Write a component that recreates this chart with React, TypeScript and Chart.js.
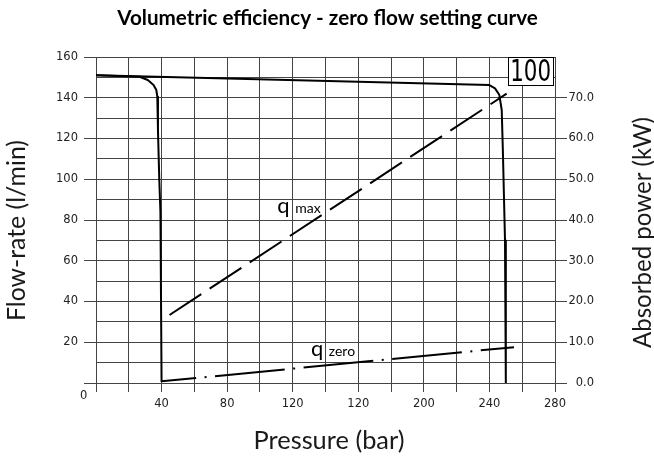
import React, { useEffect, useRef } from 'react';
import { Chart, registerables } from 'chart.js';

Chart.register(...registerables);

const W = 654;
const H = 463;

// ---- Data ----
const TITLE = 'Volumetric efficiency - zero flow setting curve';
const X_TITLE = 'Pressure (bar)';
const Y_TITLE = 'Flow-rate (l/min)';
const Y2_TITLE = 'Absorbed power (kW)';

// Outer setting curve (100): top line then right-hand drop
const outerX = [0, 240, 243.4, 246, 247.5, 248.2, 249.5, 250, 250];
const outerY = [151, 146.2, 144.6, 141.5, 134, 114, 70, 60, 0];
// Inner curve: leaves the top line and drops at 40 bar
const innerX = [0, 26.6, 31.6, 35.1, 36.8, 37.4, 37.8, 38.6, 39.3, 40];
const innerY = [151, 150.3, 148.7, 146.3, 143.8, 140.5, 124, 100, 84, 0.5];
// q max (dashed)
const qMaxX = [40, 250.5];
const qMaxY = [30.8, 142];
// q zero (dash-dot)
const qZeroX = [40, 255];
const qZeroY = [0.8, 17.6];

// Tick labels
const xTickValues = [40, 80, 120, 160, 200, 240, 280];
const xTickLabels = ['40', '80', '120', '120', '200', '240', '280'];
const yTickValues = [20, 40, 60, 80, 100, 120, 140, 160];
const yTickLabels = ['20', '40', '60', '80', '100', '120', '140', '160'];
const y2TickValues = [0, 10, 20, 30, 40, 50, 60, 70];
const y2TickLabels = ['0.0', '10.0', '20.0', '30.0', '40.0', '50.0', '60.0', '70.0'];
const ORIGIN_LABEL = '0';
const BOX_LABEL = '100';

const toPts = (xs: number[], ys: number[]) => xs.map((x, i) => ({ x, y: ys[i] }));

const GRID = '#444';
const TICK_FONT = { family: 'DejaVu Sans', size: 11.5 };
const TEXT = '#1a1a1a';

function fitFont(ctx: CanvasRenderingContext2D, text: string, target: number, weight: string, family: string) {
  ctx.font = `${weight} 20px ${family}`;
  const w = ctx.measureText(text).width;
  const size = (20 * target) / w;
  return `${weight} ${size.toFixed(2)}px ${family}`;
}

const overlay = {
  id: 'overlay',
  afterDraw(chart: any) {
    const { ctx } = chart;
    const xs = chart.scales.x;
    const ys = chart.scales.y;
    const px = (v: number) => xs.getPixelForValue(v);
    const py = (v: number) => ys.getPixelForValue(v);
    ctx.save();
    ctx.fillStyle = '#000';
    ctx.textBaseline = 'alphabetic';

    // Title
    ctx.textAlign = 'center';
    ctx.font = fitFont(ctx, TITLE, 421, 'bold', 'Lato');
    ctx.fillText(TITLE, 327.5, 25);

    // X axis title
    ctx.fillStyle = TEXT;
    ctx.font = fitFont(ctx, X_TITLE, 151, 'normal', 'Lato');
    ctx.fillText(X_TITLE, 329, 449);

    // Left axis title
    ctx.save();
    ctx.translate(25, 230.5);
    ctx.rotate(-Math.PI / 2);
    ctx.font = fitFont(ctx, Y_TITLE, 181, 'normal', 'Lato');
    ctx.fillText(Y_TITLE, 0, 0);
    ctx.restore();

    // Right axis title
    ctx.save();
    ctx.translate(651, 232.5);
    ctx.rotate(-Math.PI / 2);
    ctx.font = fitFont(ctx, Y2_TITLE, 231, 'normal', 'Lato');
    ctx.fillText(Y2_TITLE, 0, 0);
    ctx.restore();

    // Origin "0"
    ctx.fillStyle = '#222';
    ctx.font = `${TICK_FONT.size}px ${TICK_FONT.family}`;
    ctx.textBaseline = 'middle';
    ctx.fillText(ORIGIN_LABEL, 83.7, 396.5);

    // q max label
    ctx.fillStyle = '#000';
    ctx.textAlign = 'left';
    ctx.textBaseline = 'alphabetic';
    ctx.font = '22px Lato';
    ctx.fillText('q', px(110.6), py(83.3));
    ctx.font = '14px Lato';
    ctx.fillText('max', px(121.6), py(83.3));

    // q zero label
    ctx.font = '22px Lato';
    ctx.fillText('q', px(131.2), py(13.2));
    ctx.font = '14px Lato';
    ctx.fillText('zero', px(142), py(13.2));

    // "100" box
    const bl = px(251.4), br = px(278.8), bt = py(160), bb = py(146.3);
    ctx.fillStyle = '#fff';
    ctx.fillRect(Math.round(bl), Math.round(bt), Math.round(br - bl), Math.round(bb - bt));
    ctx.strokeStyle = '#000';
    ctx.lineWidth = 1;
    ctx.strokeRect(Math.round(bl) + 0.5, Math.round(bt) + 0.5, Math.round(br - bl), Math.round(bb - bt));
    ctx.fillStyle = '#000';
    ctx.save();
    ctx.translate((bl + br) / 2, bb - 3.5);
    ctx.scale(0.69, 1);
    ctx.textAlign = 'center';
    ctx.textBaseline = 'alphabetic';
    ctx.font = '31px DejaVu Sans';
    ctx.fillText(BOX_LABEL, 0, 0);
    ctx.restore();

    ctx.restore();
  },
};

export default function App() {
  const ref = useRef<HTMLCanvasElement>(null);

  useEffect(() => {
    const canvas = ref.current;
    if (!canvas) return;
    const lineBase = {
      showLine: true,
      pointRadius: 0,
      pointHoverRadius: 0,
      borderColor: '#000',
      backgroundColor: '#000',
      fill: false,
      tension: 0,
      xAxisID: 'x',
      yAxisID: 'y',
    };
    const chart = new Chart(canvas, {
      type: 'scatter',
      data: {
        datasets: [
          { ...lineBase, label: 'outer', data: toPts(outerX, outerY), borderWidth: 2, borderJoinStyle: 'round' },
          { ...lineBase, label: 'inner', data: toPts(innerX, innerY), borderWidth: 2, borderJoinStyle: 'round' },
          { ...lineBase, label: 'q max', data: toPts(qMaxX, qMaxY), borderWidth: 2, borderDash: [38, 10], borderDashOffset: 38.5 },
          { ...lineBase, label: 'q zero', data: toPts(qZeroX, qZeroY), borderWidth: 2, borderDash: [70, 8.5, 2, 8.5], borderDashOffset: 35.3 },
        ] as any,
      },
      options: {
        responsive: false,
        devicePixelRatio: 1,
        animation: false,
        events: [],
        layout: { padding: { top: 57, left: 0, right: 60, bottom: 0 } },
        plugins: {
          legend: { display: false },
          title: { display: false },
          tooltip: { enabled: false },
        },
        scales: {
          x: {
            type: 'linear',
            position: 'bottom',
            min: 0,
            max: 280,
            afterFit: (s: any) => { s.height = H - 383; },
            ticks: {
              stepSize: 20,
              autoSkip: false,
              maxRotation: 0,
              minRotation: 0,
              padding: 5,
              color: '#222',
              font: TICK_FONT,
              callback: (v: any) => {
                const i = xTickValues.indexOf(Number(v));
                return i >= 0 ? xTickLabels[i] : '';
              },
            },
            grid: { color: GRID, lineWidth: 1, tickLength: 9, tickColor: GRID },
            border: { display: true, color: GRID, width: 1 },
          },
          y: {
            type: 'linear',
            position: 'left',
            min: 0,
            max: 160,
            afterFit: (s: any) => { s.width = 96; },
            ticks: {
              stepSize: 10,
              autoSkip: false,
              padding: 6,
              color: '#222',
              font: TICK_FONT,
              callback: (v: any) => {
                const i = yTickValues.indexOf(Number(v));
                return i >= 0 ? yTickLabels[i] : '';
              },
            },
            grid: {
              color: GRID,
              lineWidth: 1,
              tickLength: 12,
              tickColor: (c: any) => (c.tick && c.tick.value % 20 === 0 ? GRID : 'rgba(0,0,0,0)'),
            },
            border: { display: true, color: GRID, width: 1 },
          },
          y2: {
            type: 'linear',
            position: 'right',
            min: 0,
            max: 80,
            afterFit: (s: any) => { s.width = 39; },
            ticks: {
              stepSize: 10,
              autoSkip: false,
              padding: 1,
              crossAlign: 'far',
              color: '#222',
              font: TICK_FONT,
              callback: (v: any) => {
                const i = y2TickValues.indexOf(Number(v));
                return i >= 0 ? y2TickLabels[i] : '';
              },
            },
            grid: {
              drawOnChartArea: false,
              color: GRID,
              lineWidth: 1,
              tickLength: 12,
              tickColor: (c: any) => (c.tick && c.tick.value < 80 ? GRID : 'rgba(0,0,0,0)'),
            },
            border: { display: true, color: GRID, width: 1 },
          },
        },
      } as any,
      plugins: [overlay],
    });
    return () => chart.destroy();
  }, []);

  return (
    <div style={{ position: 'absolute', left: 0, top: 0, width: W, height: H, background: '#fff' }}>
      <canvas ref={ref} width={W} height={H} style={{ width: W, height: H, display: 'block' }} />
    </div>
  );
}
